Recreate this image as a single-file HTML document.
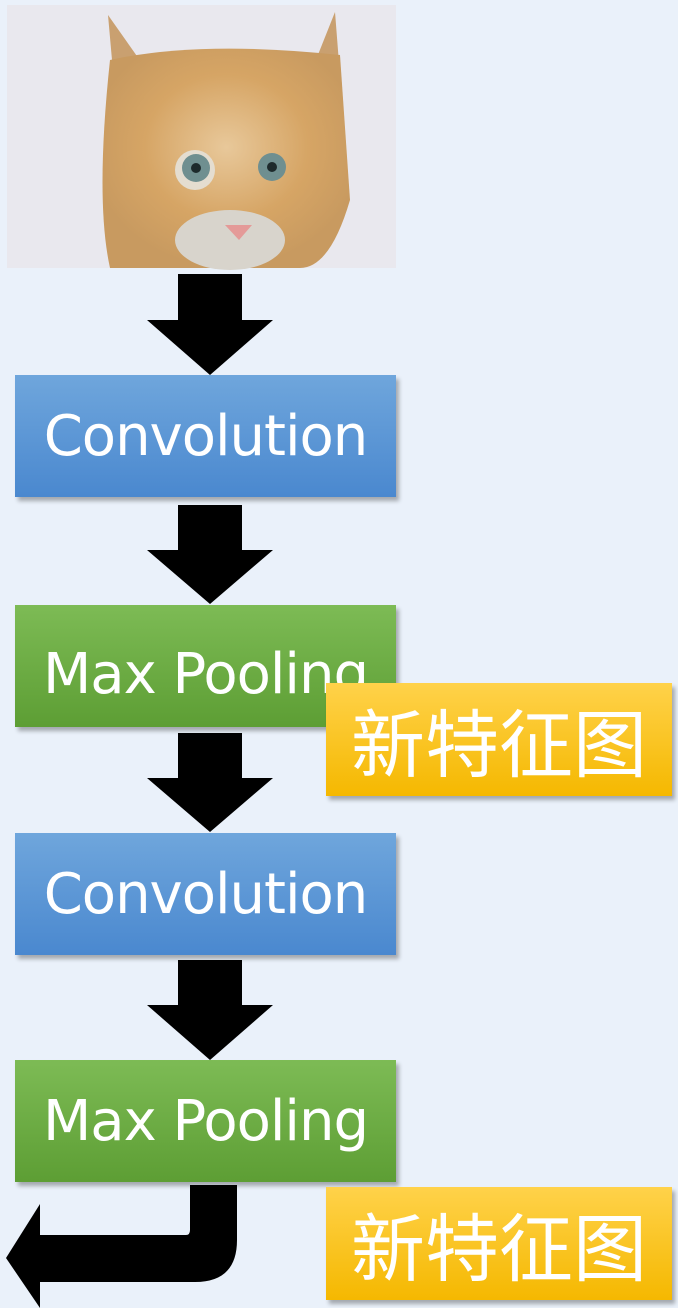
<!DOCTYPE html>
<html><head><meta charset="utf-8"><style>
html,body{margin:0;padding:0;}
body{width:678px;height:1308px;background:#eaf1fa;position:relative;overflow:hidden;font-family:"Liberation Sans","Noto Sans CJK SC",sans-serif;}
.box{position:absolute;left:15px;width:381px;height:122px;color:#fff;font-size:56px;display:flex;align-items:center;justify-content:center;box-shadow:3px 4px 4px rgba(0,0,0,0.3);font-family:"DejaVu Sans","Liberation Sans",sans-serif;letter-spacing:-1px;white-space:nowrap;}
.blue{background:linear-gradient(#6fa6dc,#4a88cf);}
.green{background:linear-gradient(#7dbb55,#5d9e34);}
.yel{position:absolute;left:326px;width:346px;height:113px;background:linear-gradient(#ffd24a,#f5b800);color:#fff;font-size:74px;display:flex;align-items:center;justify-content:center;box-shadow:3px 4px 4px rgba(0,0,0,0.3);font-family:"Noto Sans CJK SC",sans-serif;}
svg{position:absolute;left:0;top:0;}
</style></head><body>
<svg width="678" height="1308">
<defs>
<radialGradient id="fur" cx="0.5" cy="0.45" r="0.55"><stop offset="0" stop-color="#e8c89a"/><stop offset="0.6" stop-color="#d6a565"/><stop offset="1" stop-color="#c89a60"/></radialGradient>
</defs>
<rect x="7" y="5" width="389" height="263" fill="#e9e8ee"/>
<polygon points="108,15 175,110 120,150" fill="#c9a070"/>
<polygon points="335,12 300,100 345,140" fill="#c9a070"/>
<path d="M110,60 Q200,40 340,55 L350,200 Q330,268 300,268 L110,268 Q95,200 110,60Z" fill="url(#fur)"/>
<ellipse cx="230" cy="240" rx="55" ry="30" fill="#d8d4cc"/>
<ellipse cx="195" cy="170" rx="20" ry="20" fill="#e4ddd0"/>
<circle cx="196" cy="168" r="14" fill="#6f8f90"/><circle cx="196" cy="168" r="5" fill="#1d2a2c"/>
<circle cx="272" cy="167" r="14" fill="#6f8f90"/><circle cx="272" cy="167" r="5" fill="#1d2a2c"/>
<polygon points="225,225 252,225 239,240" fill="#e49a98"/>
<g fill="#000">
<polygon points="178,274 242,274 242,320 273,320 210,375 147,320 178,320"/>
<polygon points="178,505 242,505 242,550 273,550 210,604 147,550 178,550"/>
<polygon points="178,733 242,733 242,778 273,778 210,832 147,778 178,778"/>
<polygon points="178,960 242,960 242,1005 273,1005 210,1060 147,1005 178,1005"/>
<path d="M190,1185 L237,1185 L237,1240 Q237,1282 195,1282 L40,1282 L40,1308 L6,1258 L40,1204 L40,1235 L186,1235 Q190,1235 190,1230Z"/>
</g>
</svg>
<div class="box blue" style="top:375px">Convolution</div>
<div class="box green" style="top:605px;padding-top:16px;height:106px;">Max Pooling</div>
<div class="yel" style="top:683px">新特征图</div>
<div class="box blue" style="top:833px">Convolution</div>
<div class="box green" style="top:1060px">Max Pooling</div>
<div class="yel" style="top:1187px">新特征图</div>
</body></html>
